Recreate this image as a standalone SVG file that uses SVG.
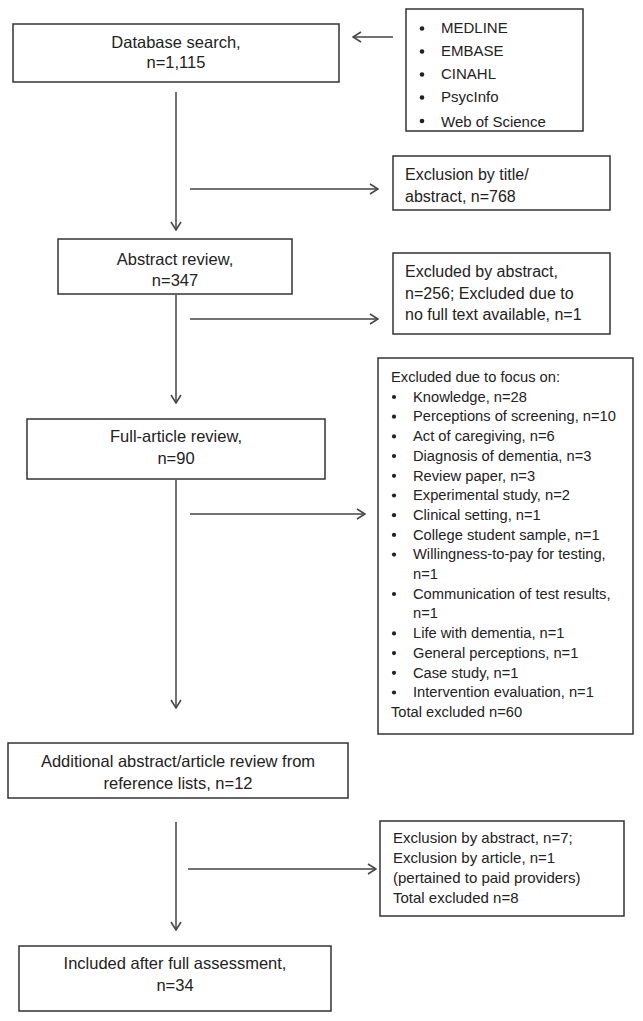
<svg xmlns="http://www.w3.org/2000/svg" width="643" height="1021" viewBox="0 0 643 1021">
<style>
.box{fill:#fff;stroke:#333;stroke-width:1.5}
.t{font-family:"Liberation Sans",Arial,sans-serif;fill:#222}
.main{font-size:16.5px;text-anchor:middle}
.side{font-size:16px}
.src{font-size:15px}
.big{font-size:14.7px}
.b3{font-size:15px}
.conn{stroke:#444;stroke-width:1.5;fill:none;marker-end:url(#arr)}
.dot{fill:#222}
</style>
<defs>
<marker id="arr" viewBox="0 0 10 12" refX="9" refY="6" markerWidth="10" markerHeight="12" markerUnits="userSpaceOnUse" orient="auto">
<path d="M1,1 L9,6 L1,11" fill="none" stroke="#444" stroke-width="1.5"/>
</marker>
<clipPath id="srcclip"><rect x="406" y="9" width="177" height="118"/></clipPath>
</defs>
<rect width="643" height="1021" fill="#fff"/>
<g id="connectors">
<line class="conn" x1="393" y1="37" x2="353" y2="37"/>
<line class="conn" x1="176" y1="92" x2="176" y2="230"/>
<line class="conn" x1="190" y1="189" x2="378" y2="189"/>
<line class="conn" x1="176" y1="295" x2="176" y2="403"/>
<line class="conn" x1="190" y1="319" x2="378" y2="319"/>
<line class="conn" x1="176" y1="480" x2="176" y2="708"/>
<line class="conn" x1="190" y1="514" x2="365" y2="514"/>
<line class="conn" x1="176" y1="822" x2="176" y2="930"/>
<line class="conn" x1="188" y1="869" x2="376" y2="869"/>
</g>
<g id="database">
<rect class="box" x="13" y="24" width="326" height="58"/>
<text class="t main" x="176" y="48">Database search,</text>
<text class="t main" x="176" y="68">n=1,115</text>
</g>
<g id="sources">
<rect class="box" x="406" y="9" width="177" height="122"/>
<g clip-path="url(#srcclip)">
<circle class="dot" cx="422" cy="28.5" r="2.3"/><text class="t src" x="441" y="33">MEDLINE</text>
<circle class="dot" cx="422" cy="51.5" r="2.3"/><text class="t src" x="441" y="56">EMBASE</text>
<circle class="dot" cx="422" cy="74.5" r="2.3"/><text class="t src" x="441" y="79">CINAHL</text>
<circle class="dot" cx="422" cy="97.5" r="2.3"/><text class="t src" x="441" y="102">PsycInfo</text>
<circle class="dot" cx="422" cy="121" r="2.3"/><text class="t src" x="441" y="126.5">Web of Science</text>
</g>
</g>
<g id="excl-title">
<rect class="box" x="393" y="156" width="217" height="54"/>
<text class="t side" x="405" y="180">Exclusion by title/</text>
<text class="t side" x="405" y="202">abstract, n=768</text>
</g>
<g id="abstract-review">
<rect class="box" x="58" y="239" width="234" height="55"/>
<text class="t main" x="175" y="265">Abstract review,</text>
<text class="t main" x="175" y="286">n=347</text>
</g>
<g id="excl-abstract">
<rect class="box" x="393" y="253" width="217" height="81"/>
<text class="t side" x="405" y="277">Excluded by abstract,</text>
<text class="t side" x="405" y="298.5">n=256; Excluded due to</text>
<text class="t side" x="405" y="320">no full text available, n=1</text>
</g>
<g id="full-article">
<rect class="box" x="27" y="419" width="298" height="60"/>
<text class="t main" x="176" y="442">Full-article review,</text>
<text class="t main" x="176" y="464">n=90</text>
</g>
<g id="excl-focus">
<rect class="box" x="378" y="358" width="255" height="376"/>
<text class="t big" x="391" y="382">Excluded due to focus on:</text>
<circle class="dot" cx="394" cy="397" r="2.1"/><text class="t big" x="413" y="401.7">Knowledge, n=28</text>
<circle class="dot" cx="394" cy="416.7" r="2.1"/><text class="t big" x="413" y="421.4">Perceptions of screening, n=10</text>
<circle class="dot" cx="394" cy="436.4" r="2.1"/><text class="t big" x="413" y="441.1">Act of caregiving, n=6</text>
<circle class="dot" cx="394" cy="456.1" r="2.1"/><text class="t big" x="413" y="460.8">Diagnosis of dementia, n=3</text>
<circle class="dot" cx="394" cy="475.8" r="2.1"/><text class="t big" x="413" y="480.5">Review paper, n=3</text>
<circle class="dot" cx="394" cy="495.5" r="2.1"/><text class="t big" x="413" y="500.2">Experimental study, n=2</text>
<circle class="dot" cx="394" cy="515.2" r="2.1"/><text class="t big" x="413" y="519.9">Clinical setting, n=1</text>
<circle class="dot" cx="394" cy="534.9" r="2.1"/><text class="t big" x="413" y="539.6">College student sample, n=1</text>
<circle class="dot" cx="394" cy="554.6" r="2.1"/><text class="t big" x="413" y="559.3">Willingness-to-pay for testing,</text>
<text class="t big" x="413" y="579">n=1</text>
<circle class="dot" cx="394" cy="594" r="2.1"/><text class="t big" x="413" y="598.7">Communication of test results,</text>
<text class="t big" x="413" y="618.4">n=1</text>
<circle class="dot" cx="394" cy="633.4" r="2.1"/><text class="t big" x="413" y="638.1">Life with dementia, n=1</text>
<circle class="dot" cx="394" cy="653.1" r="2.1"/><text class="t big" x="413" y="657.8">General perceptions, n=1</text>
<circle class="dot" cx="394" cy="672.8" r="2.1"/><text class="t big" x="413" y="677.5">Case study, n=1</text>
<circle class="dot" cx="394" cy="692.5" r="2.1"/><text class="t big" x="413" y="697.2">Intervention evaluation, n=1</text>
<text class="t big" x="391" y="716.9">Total excluded n=60</text>
</g>
<g id="additional">
<rect class="box" x="8" y="743" width="340" height="55"/>
<text class="t main" x="178" y="767">Additional abstract/article review from</text>
<text class="t main" x="178" y="789">reference lists, n=12</text>
</g>
<g id="excl-additional">
<rect class="box" x="380" y="821" width="244" height="95"/>
<text class="t b3" x="393" y="843">Exclusion by abstract, n=7;</text>
<text class="t b3" x="393" y="863">Exclusion by article, n=1</text>
<text class="t b3" x="393" y="883">(pertained to paid providers)</text>
<text class="t b3" x="393" y="903">Total excluded n=8</text>
</g>
<g id="included">
<rect class="box" x="19" y="946" width="312" height="65"/>
<text class="t main" x="175" y="969">Included after full assessment,</text>
<text class="t main" x="175" y="991">n=34</text>
</g>
</svg>
